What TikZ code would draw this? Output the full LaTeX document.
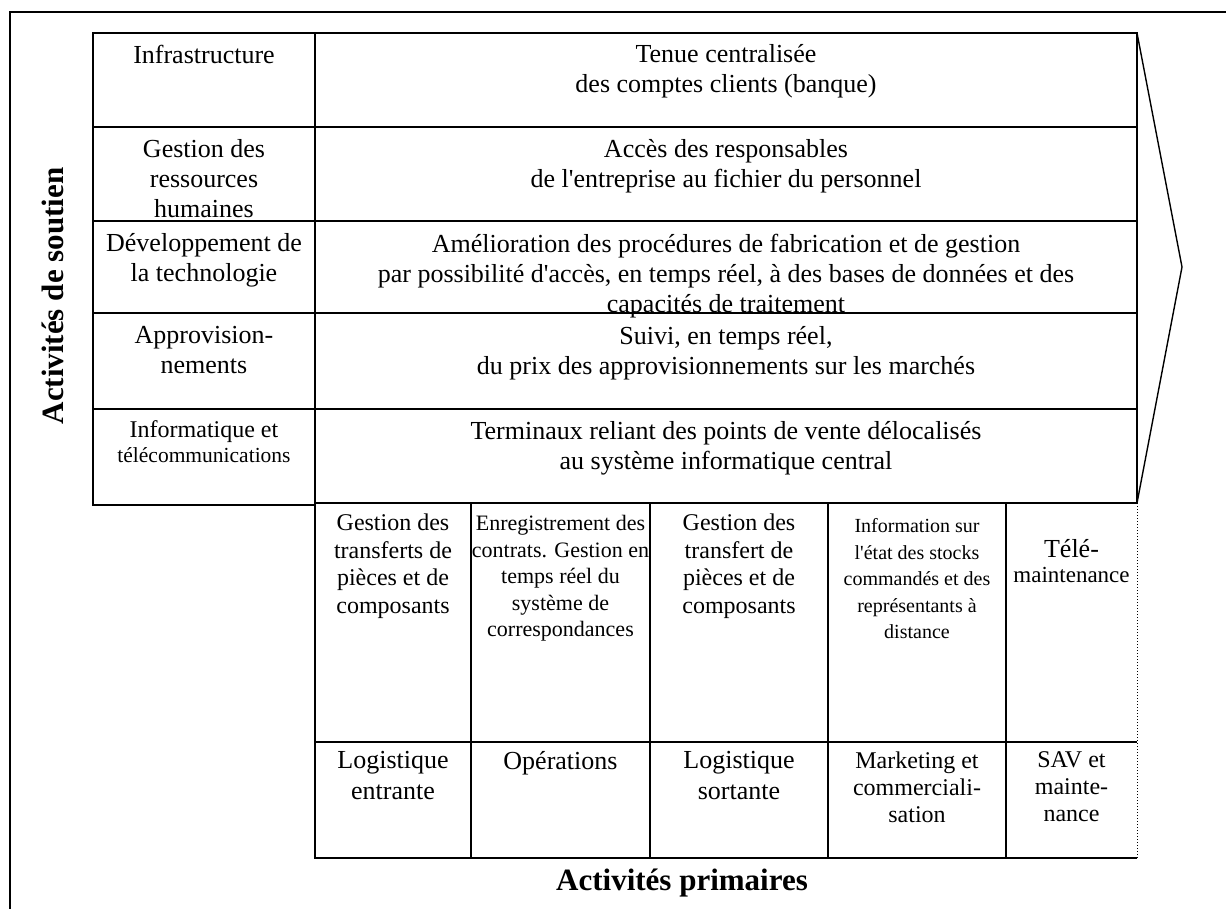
\documentclass[tikz,border=0pt]{standalone}
\usepackage{fontspec}
\setmainfont{Liberation Serif}
\usetikzlibrary{positioning}

\newcommand{\fsBig}{\fontsize{26}{30}\selectfont}
\newcommand{\fsMid}{\fontsize{24}{27.5}\selectfont}
\newcommand{\fsSmall}{\fontsize{22}{26.5}\selectfont}
\newcommand{\fsTiny}{\fontsize{20}{26.5}\selectfont}
\newcommand{\fsLab}{\fontsize{26}{31}\selectfont}
\newcommand{\fsLabS}{\fontsize{24}{27}\selectfont}
\newcommand{\apos}{\textquotesingle}

\begin{document}
\begin{tikzpicture}[
  x=1pt, y=-1pt,
  line width=1.4pt,
  cell/.style={draw, anchor=north west, inner sep=0pt, outer sep=0pt},
  blank/.style={anchor=north west, inner sep=0pt, outer sep=0pt},
  txt/.style={align=center, inner sep=0pt, font=\fsBig},
  midtxt/.style={txt, font=\fsMid},
  smalltxt/.style={txt, font=\fsSmall},
  tinytxt/.style={txt, font=\fsTiny},
  labtxt/.style={txt, font=\fsLab},
  labstxt/.style={txt, font=\fsLabS},
  title/.style={inner sep=0pt, font=\fontsize{31}{36}\selectfont\bfseries}
]

\useasboundingbox (0,0) rectangle (1226,909);

% outer frame (cut by the page)
\coordinate (frameTR) at (1226,12);
\coordinate (frameTL) at (10,12);
\coordinate (frameBL) at (10,909);
\draw (frameTR) -- (frameTL) -- (frameBL);

% support activities: names on the left
\node[cell, minimum width=222pt, minimum height=94pt] (sInfra) at (93,33) {};
\node[cell, minimum width=222pt, minimum height=94pt] (sGrh) at (93,127) {};
\node[cell, minimum width=222pt, minimum height=92pt] (sTech) at (93,221) {};
\node[cell, minimum width=222pt, minimum height=96pt] (sAppro) at (93,313) {};
\node[cell, minimum width=222pt, minimum height=96pt] (sInfo) at (93,409) {};

\node[txt, below=11pt of sInfra.north] (sInfraTxt) {Infrastructure};
\node[txt, below=12pt of sGrh.north] (sGrhTxt) {Gestion des\\ressources\\humaines};
\node[txt, below=12pt of sTech.north] (sTechTxt) {Développement de\\la technologie};
\node[txt, below=13pt of sAppro.north] (sApproTxt) {Approvision-\\nements};
\node[tinytxt, font=\fontsize{21.5}{25}\selectfont, below=11pt of sInfo.north] (sInfoTxt)
  {{\fsMid Informatique et}\\télécommunications};

% support activities: examples on the right
\node[cell, minimum width=822pt, minimum height=94pt] (bInfra) at (315,33) {};
\node[cell, minimum width=822pt, minimum height=94pt] (bGrh) at (315,127) {};
\node[cell, minimum width=822pt, minimum height=92pt] (bTech) at (315,221) {};
\node[cell, minimum width=822pt, minimum height=96pt] (bAppro) at (315,313) {};
\node[cell, minimum width=822pt, minimum height=94pt] (bInfo) at (315,409) {};
\draw[line width=2.6pt] (bGrh.north west) -- (bGrh.north east);

\node[txt, below=11pt of bInfra.north] (bInfraTxt) {Tenue centralisée\\des comptes clients (banque)};
\node[txt, below=12pt of bGrh.north] (bGrhTxt) {Accès des responsables\\de l\apos entreprise au fichier du personnel};
\node[txt, below=12pt of bTech.north] (bTechTxt) {Amélioration des procédures de fabrication et de gestion\\par possibilité d\apos accès, en temps réel, à des bases de données et des\\capacités de traitement};
\node[txt, below=13pt of bAppro.north] (bApproTxt) {Suivi, en temps réel,\\du prix des approvisionnements sur les marchés};
\node[txt, below=12pt of bInfo.north] (bInfoTxt) {Terminaux reliant des points de vente délocalisés\\au système informatique central};

% arrow head of the value chain
\coordinate (tip) at (1182,267);
\draw (bInfra.north east) -- (tip) -- (bInfo.south east);

% primary activities: examples
\node[cell, minimum width=156pt, minimum height=239pt] (pLogIn) at (315,503) {};
\node[cell, minimum width=179pt, minimum height=239pt] (pOps) at (471,503) {};
\node[cell, minimum width=178pt, minimum height=239pt] (pLogOut) at (650,503) {};
\node[cell, minimum width=178pt, minimum height=239pt] (pMkt) at (828,503) {};
\node[blank, minimum width=131pt, minimum height=239pt] (pSav) at (1006,503) {};

\node[midtxt, below=10.5pt of pLogIn.north] (pLogInTxt) {Gestion des\\transferts de\\pièces et de\\composants};
\node[smalltxt, below=12pt of pOps.north] (pOpsTxt) {Enregistrement des\\contrats. Gestion en\\temps réel du\\système de\\correspondances};
\node[midtxt, below=10.5pt of pLogOut.north] (pLogOutTxt) {Gestion des\\transfert de\\pièces et de\\composants};
\node[tinytxt, below=15pt of pMkt.north] (pMktTxt) {Information sur\\l\apos état des stocks\\commandés et des\\représentants à\\distance};
\node[txt, font=\fontsize{23}{25}\selectfont, below=36pt of pSav.north] (pSavTxt) {{\fsBig Télé-}\\maintenance};

% primary activities: names
\node[cell, minimum width=156pt, minimum height=116pt] (aLogIn) at (315,742) {};
\node[cell, minimum width=179pt, minimum height=116pt] (aOps) at (471,742) {};
\node[cell, minimum width=178pt, minimum height=116pt] (aLogOut) at (650,742) {};
\node[cell, minimum width=178pt, minimum height=116pt] (aMkt) at (828,742) {};
\node[blank, minimum width=131pt, minimum height=116pt] (aSav) at (1006,742) {};
\draw[line width=2.4pt] (aLogIn.north west) -- (aLogOut.north east);

\node[labtxt, below=9pt of aLogIn.north] (aLogInTxt) {Logistique\\entrante};
\node[labtxt, below=9pt of aOps.north] (aOpsTxt) {Opérations};
\node[labtxt, below=9pt of aLogOut.north] (aLogOutTxt) {Logistique\\sortante};
\node[labstxt, below=9pt of aMkt.north] (aMktTxt) {Marketing et\\commerciali-\\sation};
\node[labstxt, below=9pt of aSav.north] (aSavTxt) {SAV et\\mainte-\\nance};

% last column: open on the right
\draw (pSav.south west) -- (pSav.south east);
\draw (aSav.south west) -- (aSav.south east);
\draw[line width=1pt, dotted] (bInfo.south east) -- (aSav.south east);

% axis titles
\node[title, rotate=90, anchor=base] (soutien) at (63,296) {Activités de soutien};
\node[title, anchor=base] (primaires) at (682,890) {Activités primaires};

\end{tikzpicture}
\end{document}
